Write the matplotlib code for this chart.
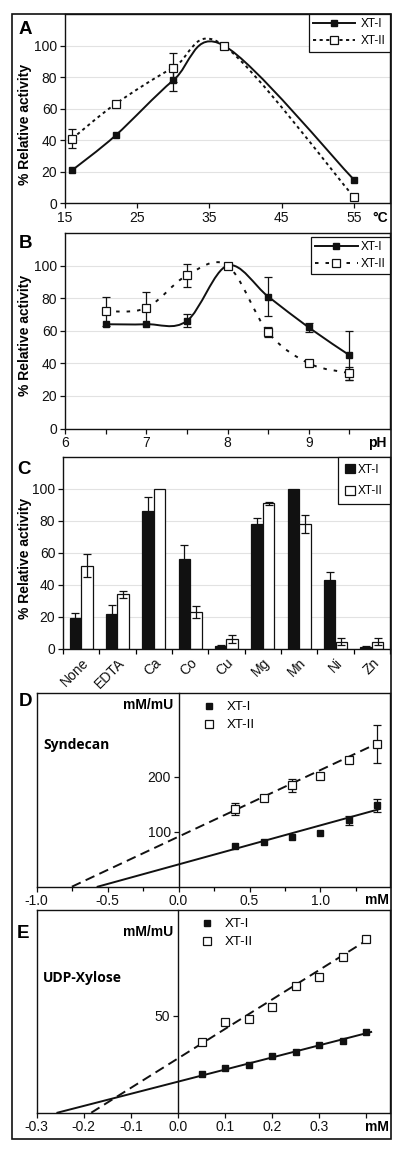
import numpy as np
import matplotlib
matplotlib.use('Agg')
import matplotlib.pyplot as plt
from matplotlib.path import Path
from matplotlib.patches import PathPatch, Rectangle
from matplotlib.lines import Line2D

plt.rcParams['font.family'] = ['Liberation Sans', 'DejaVu Sans']
plt.rcParams['font.size'] = 10

# A - temperature
temp_c = [16, 22, 30, 37, 55]
temp_xt1 = [21, 43, 78, 100, 15]
temp_xt1_err = [0, 0, 7, 0, 0]
temp_xt2 = [41, 63, 86, 100, 4]
temp_xt2_err = [6, 0, 9, 0, 0]

# B - pH
ph = [6.5, 7.0, 7.5, 8.0, 8.5, 9.0, 9.5]
ph_xt1 = [64, 64, 66, 100, 81, 62, 45]
ph_xt1_err = [0, 0, 4, 0, 12, 3, 15]
ph_xt2 = [72, 74, 94, 100, 59, 40, 34]
ph_xt2_err = [9, 10, 7, 0, 3, 0, 4]

# C - metal ions
ions = ['None', 'EDTA', 'Ca', 'Co', 'Cu', 'Mg', 'Mn', 'Ni', 'Zn']
ion_xt1 = [19, 22, 86, 56, 1.5, 78, 100, 43, 1]
ion_xt1_err = [3.5, 5.5, 9, 9, 1, 4, 0, 5, 0.5]
ion_xt2 = [52, 34, 100, 23, 6, 91, 78, 4.5, 4.5]
ion_xt2_err = [7, 2, 0, 4, 2.5, 1, 5.5, 2, 2]

# D - Syndecan (Hanes plot)
syn_mm = [0.4, 0.6, 0.8, 1.0, 1.2, 1.4]
syn_xt1 = [74.5, 82, 91, 98, 121, 148]
syn_xt1_err = [0, 0, 0, 0, 8, 12]
syn_xt2 = [142, 162, 184, 201, 231, 259]
syn_xt2_err = [11, 0, 12, 0, 5, 35]
syn_fit_xt1 = (71, 40.5)   # slope, intercept
syn_fit_xt2 = (121, 91)

# E - UDP-Xylose
udp_mm = [0.05, 0.10, 0.15, 0.20, 0.25, 0.30, 0.35, 0.40]
udp_xt1 = [19.8, 23.2, 24.6, 29.2, 31.4, 35.1, 37.1, 41.8]
udp_xt2 = [36.6, 46.9, 48.1, 54.6, 65.3, 70.1, 80.4, 89.5]
udp_fit_xt1 = (62.5, 16)
udp_fit_xt2 = (152, 28)

W, H = 400, 1150
fig = plt.figure(figsize=(W / 100, H / 100), dpi=100)
fig.set_facecolor('white')


def rect(l, t, r, b):
    return [l / W, 1 - b / H, (r - l) / W, (b - t) / H]


def fx(x):
    return x / W


def fy(y):
    return 1 - y / H


def smooth_path(x, y):
    # Excel-style smoothed line as cubic bezier segments
    pts = np.column_stack([x, y]).astype(float)
    n = len(pts)
    verts = [pts[0]]
    codes = [Path.MOVETO]
    for i in range(n - 1):
        p0 = pts[i - 1] if i > 0 else pts[i]
        p1, p2 = pts[i], pts[i + 1]
        p3 = pts[i + 2] if i + 2 < n else p2
        verts += [p1 + (p2 - p0) / 6, p2 - (p3 - p1) / 6, p2]
        codes += [Path.CURVE4] * 3
    return Path(verts, codes)


def errs(ax, x, y, e, cap=3):
    x = np.array(x); y = np.array(y); e = np.array(e)
    m = e > 0
    ax.errorbar(x[m], y[m], yerr=e[m], fmt='none', ecolor='#111111',
                elinewidth=0.9, capsize=cap, capthick=0.9, zorder=2)


def style_box(ax):
    for s in ax.spines.values():
        s.set_linewidth(1.0)
        s.set_color('#111111')
    ax.tick_params(direction='out', length=3.5, width=0.9, colors='#111111',
                   labelsize=10, pad=2)


def pct_panel(ax):
    style_box(ax)
    ax.set_ylim(0, 120)
    ax.set_yticks([0, 20, 40, 60, 80, 100])
    ax.yaxis.grid(True, color='#e2e2e2', lw=0.8)
    ax.set_axisbelow(True)


dash_a = (0, (1.6, 1.8))
dash_b = (0, (1.8, 3.6))
ms_fill, ms_open = 3.8, 5.2

# ---------- A ----------
axA = fig.add_axes(rect(65, 14, 390, 203.3))
pct_panel(axA)
axA.set_xlim(15, 60)
axA.set_xticks([15, 25, 35, 45, 55])
errs(axA, temp_c, temp_xt2, temp_xt2_err)
errs(axA, temp_c, temp_xt1, temp_xt1_err)
axA.add_patch(PathPatch(smooth_path(temp_c, temp_xt2), fill=False, lw=1.4,
                        ls=dash_a, edgecolor='#111111', zorder=3))
axA.add_patch(PathPatch(smooth_path(temp_c, temp_xt1), fill=False, lw=1.4,
                        edgecolor='#111111', zorder=3))
axA.plot(temp_c, temp_xt1, 's', color='#111111', ms=ms_fill, zorder=4)
axA.plot(temp_c, temp_xt2, 's', mfc='white', mec='#111111', mew=0.9,
         ms=ms_open, zorder=4)
hA = [Line2D([], [], color='#111111', lw=1.4, marker='s', ms=ms_fill),
      Line2D([], [], color='#111111', lw=1.4, ls=dash_a, marker='s',
             ms=ms_open, mfc='white', mew=0.9)]
leg = axA.legend(hA, ['XT-I', 'XT-II'], loc='upper right', bbox_to_anchor=(1, 1),
                 borderaxespad=0, fancybox=False, edgecolor='#111111',
                 framealpha=1, fontsize=8.5, handlelength=3.6, numpoints=1,
                 borderpad=0.35, labelspacing=0.45, handletextpad=0.5)
leg.get_frame().set_linewidth(0.9)
fig.text(fx(380), fy(218), '°C', fontweight='bold', ha='center', va='center')

# ---------- B ----------
axB = fig.add_axes(rect(65, 233, 390, 428.5))
pct_panel(axB)
axB.set_xlim(6, 10)
axB.set_xticks([6, 6.5, 7, 7.5, 8, 8.5, 9, 9.5])
axB.set_xticklabels(['6', '', '7', '', '8', '', '9', ''])
errs(axB, ph, ph_xt2, ph_xt2_err)
errs(axB, ph, ph_xt1, ph_xt1_err)
axB.add_patch(PathPatch(smooth_path(ph, ph_xt2), fill=False, lw=1.4,
                        ls=dash_b, edgecolor='#111111', zorder=3))
axB.add_patch(PathPatch(smooth_path(ph, ph_xt1), fill=False, lw=1.4,
                        edgecolor='#111111', zorder=3))
axB.plot(ph, ph_xt1, 's', color='#111111', ms=ms_fill, zorder=4)
axB.plot(ph, ph_xt2, 's', mfc='white', mec='#111111', mew=0.9,
         ms=ms_open, zorder=4)
hB = [Line2D([], [], color='#111111', lw=1.4, marker='s', ms=ms_fill),
      Line2D([], [], color='#111111', lw=1.4, ls=dash_b, marker='s',
             ms=ms_open, mfc='white', mew=0.9)]
leg = axB.legend(hB, ['XT-I', 'XT-II'], loc='upper right',
                 bbox_to_anchor=(1, 0.98), borderaxespad=0, fancybox=False,
                 edgecolor='#111111', framealpha=1, fontsize=8.5,
                 handlelength=3.6, numpoints=1, borderpad=0.35,
                 labelspacing=0.45, handletextpad=0.3)
leg.get_frame().set_linewidth(0.9)
fig.text(fx(377), fy(443), 'pH', fontweight='bold', ha='center', va='center')

# ---------- C ----------
axC = fig.add_axes(rect(63, 456.7, 390, 648.9))
pct_panel(axC)
xc = np.arange(len(ions))
axC.set_xlim(-0.5, len(ions) - 0.5)
bw = 0.32
axC.bar(xc - bw / 2, ion_xt1, bw, color='#111111', edgecolor='#111111',
        lw=0.9, label='XT-I', zorder=2)
axC.bar(xc + bw / 2, ion_xt2, bw, color='white', edgecolor='#111111',
        lw=0.9, label='XT-II', zorder=2)
errs(axC, xc - bw / 2, ion_xt1, ion_xt1_err, cap=3.2)
errs(axC, xc + bw / 2, ion_xt2, ion_xt2_err, cap=3.2)
axC.set_xticks(xc)
axC.set_xticklabels(ions, rotation=45, ha='right', rotation_mode='anchor')
axC.set_xticks(np.arange(len(ions) + 1) - 0.5, minor=True)
axC.tick_params(axis='x', which='major', length=0, pad=5)
axC.tick_params(axis='x', which='minor', direction='out', length=3.5, width=0.9)
leg = axC.legend(loc='upper right', bbox_to_anchor=(1, 1), borderaxespad=0,
                 fancybox=False, edgecolor='#111111', framealpha=1,
                 fontsize=8.5, handlelength=0.8, handleheight=0.8,
                 borderpad=0.6, labelspacing=0.8, handletextpad=0.3)
leg.get_frame().set_linewidth(0.9)

# ---------- D / E common ----------


def hanes_panel(ax, xlim, ylim, yticks):
    style_box(ax)
    ax.set_xlim(*xlim)
    ax.set_ylim(*ylim)
    ax.spines['left'].set_position(('data', 0))
    ax.add_line(Line2D([0, 0], [0, 1], transform=ax.transAxes, color='#111111',
                       lw=1.0, clip_on=False))
    ax.set_yticks(yticks)


def fit_line(ax, fit, x_end, ls):
    slope, icpt = fit
    x0 = -icpt / slope
    xs = np.array([x0, x_end])
    ax.plot(xs, slope * xs + icpt, color='#111111', lw=1.4, ls=ls, zorder=2)


long_dash = (0, (5, 2.8))

axD = fig.add_axes(rect(36.7, 693, 390, 886.7))
hanes_panel(axD, (-1.0, 1.49), (0, 352), [100, 200])
axD.set_xticks([-1.0, -0.5, 0.0, 0.5, 1.0])
axD.set_xticklabels(['-1.0', '-0.5', '0.0', '0.5', '1.0'])
axD.set_xticks([-0.75, -0.25, 0.25, 0.75, 1.25], minor=True)
axD.tick_params(axis='x', which='minor', direction='out', length=3, width=0.9)
fit_line(axD, syn_fit_xt2, 1.41, long_dash)
fit_line(axD, syn_fit_xt1, 1.42, '-')
errs(axD, syn_mm, syn_xt2, syn_xt2_err)
errs(axD, syn_mm, syn_xt1, syn_xt1_err)
axD.plot(syn_mm, syn_xt1, 's', color='#111111', ms=4.2, zorder=4, label='XT-I')
axD.plot(syn_mm, syn_xt2, 's', mfc='white', mec='#111111', mew=0.9, ms=5.8,
         zorder=4, label='XT-II')
axD.legend(loc='upper left', bbox_to_anchor=((196 - 36.7) / 353.3, 1.0),
           frameon=False, fontsize=9.5, handlelength=0.8, handletextpad=0.9,
           labelspacing=0.45, borderaxespad=0.2, numpoints=1)
fig.text(fx(173), fy(705), 'mM/mU', fontweight='bold', ha='right', va='center')
fig.text(fx(43), fy(745), 'Syndecan', fontweight='bold', ha='left', va='center',
         family=['Open Sans', 'DejaVu Sans'], fontsize=10)
fig.text(fx(377), fy(900), 'mM', fontweight='bold', ha='center', va='center')

axE = fig.add_axes(rect(36.7, 910, 390, 1112.7))
hanes_panel(axE, (-0.3, 0.45), (0, 104.5), [50])
axE.set_xticks([-0.3, -0.2, -0.1, 0.0, 0.1, 0.2, 0.3, 0.4])
axE.set_xticklabels(['-0.3', '-0.2', '-0.1', '0.0', '0.1', '0.2', '0.3', ''])
fit_line(axE, udp_fit_xt2, 0.40, long_dash)
fit_line(axE, udp_fit_xt1, 0.41, '-')
axE.plot(udp_mm, udp_xt1, 's', color='#111111', ms=4.2, zorder=4, label='XT-I')
axE.plot(udp_mm, udp_xt2, 's', mfc='white', mec='#111111', mew=0.9, ms=5.8,
         zorder=4, label='XT-II')
axE.legend(loc='upper left', bbox_to_anchor=((194 - 36.7) / 353.3, 1.0),
           frameon=False, fontsize=9.5, handlelength=0.8, handletextpad=0.9,
           labelspacing=0.45, borderaxespad=0.2, numpoints=1)
fig.text(fx(173), fy(932), 'mM/mU', fontweight='bold', ha='right', va='center')
fig.text(fx(43), fy(978), 'UDP-Xylose', fontweight='bold', ha='left',
         va='center', family=['Open Sans', 'DejaVu Sans'], fontsize=10)
fig.text(fx(377), fy(1127), 'mM', fontweight='bold', ha='center', va='center')

# y labels and panel letters
for yc in (124, 335, 558):
    fig.text(fx(25), fy(yc), '% Relative activity', rotation=90,
             fontweight='bold', ha='center', va='center', fontsize=10)
for letter, (lx, ly) in zip('ABCDE', [(25, 30), (26, 243), (24, 469),
                                      (25, 702), (23, 934)]):
    fig.text(fx(lx), fy(ly), letter, fontweight='bold', fontsize=13.5,
             ha='center', va='center')

# outer frame
fig.add_artist(Rectangle((fx(12), fy(1139)), fx(391) - fx(12),
                         fy(14) - fy(1139), transform=fig.transFigure,
                         fill=False, lw=1.2, edgecolor='#111111'))

fig.savefig('out.png', dpi=100, facecolor='white')
